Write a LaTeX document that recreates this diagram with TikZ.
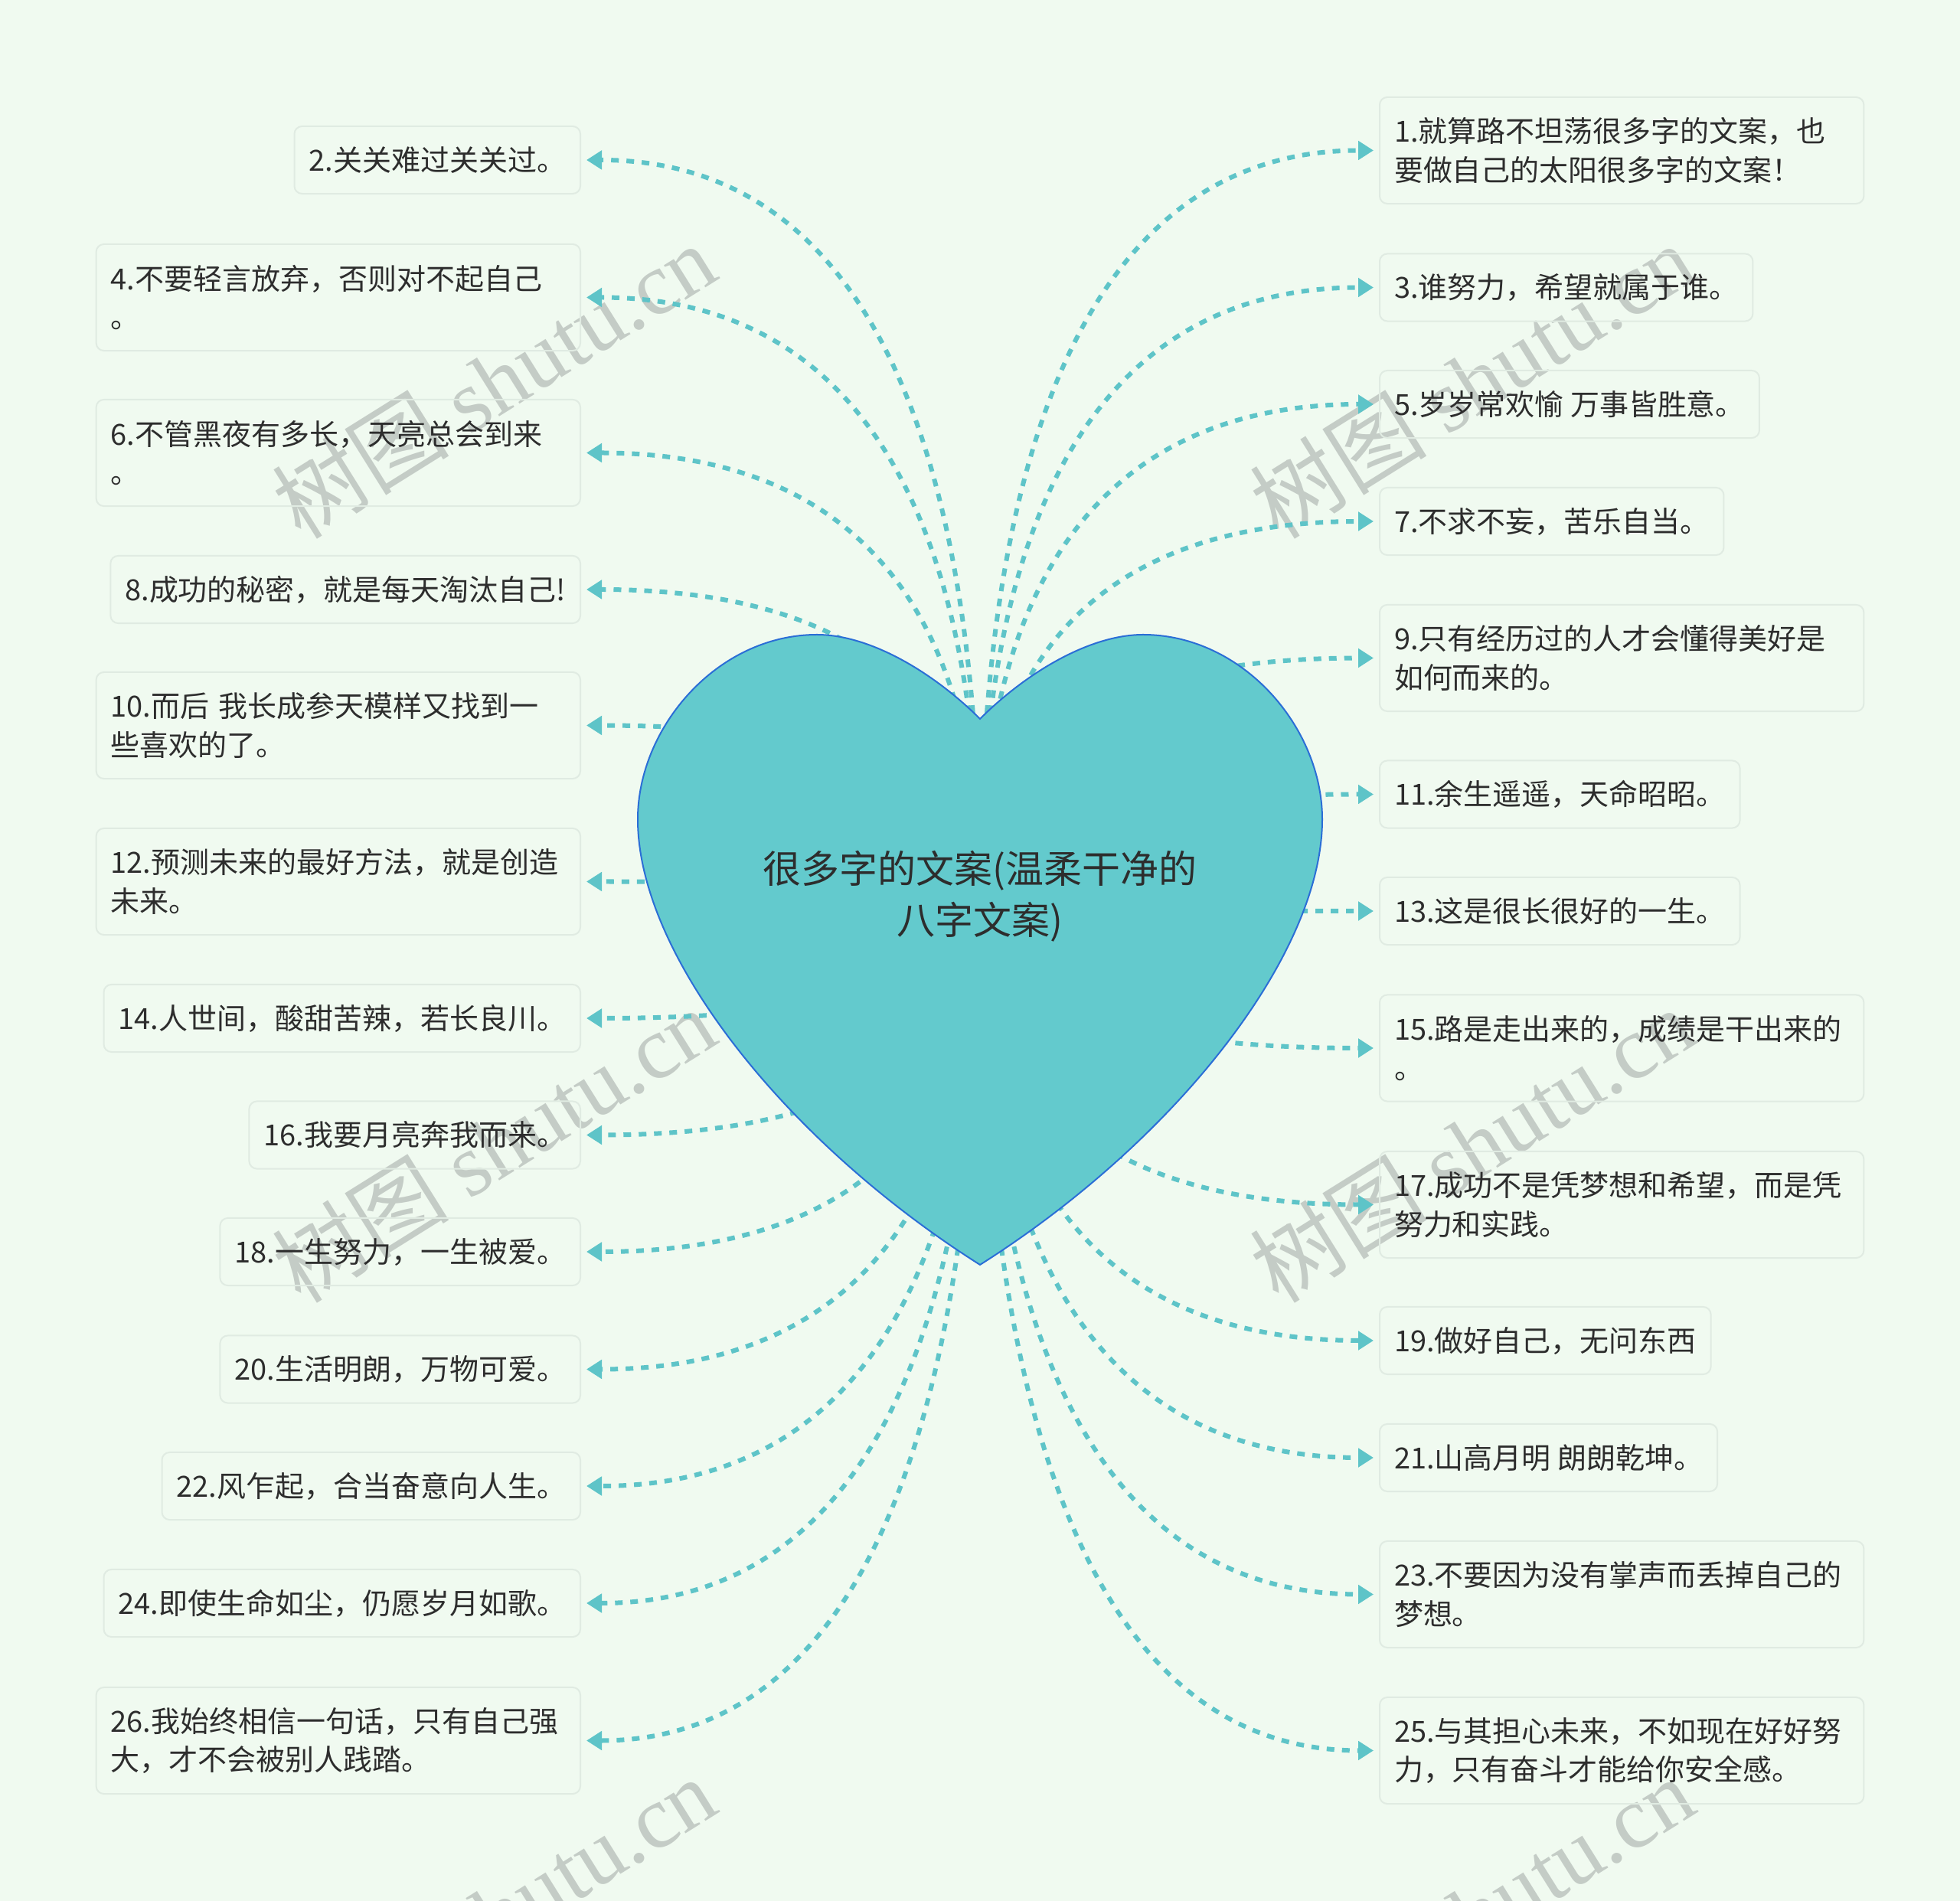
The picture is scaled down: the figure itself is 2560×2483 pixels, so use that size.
\documentclass[tikz,border=0pt]{standalone}
\usepackage{fontspec}
\setmainfont{Noto Sans CJK SC}
\newfontfamily\wmfont{Liberation Serif}
\usepackage{xcolor}
\usetikzlibrary{arrows.meta,calc}

\definecolor{bgmint}{RGB}{240,250,240}
\definecolor{boxline}{RGB}{224,235,226}
\definecolor{heartfill}{RGB}{99,202,205}
\definecolor{heartline}{RGB}{43,110,214}
\definecolor{linkcol}{RGB}{94,196,200}
\definecolor{txt}{RGB}{45,45,45}
\definecolor{wmgray}{RGB}{196,204,198}

\pgfdeclarelayer{background}
\pgfsetlayers{background,main}

\tikzset{
  leaf/.style={draw=boxline, line width=0.02cm, rounded corners=0.1cm,
    inner xsep=0.19cm, inner ysep=0.1cm, minimum height=0.88cm, text=txt,
    font=\fontsize{10.8}{14.4}\selectfont},
  leafw/.style={leaf, text width=5.94cm, align=left, minimum height=1.39cm},
  link/.style={linkcol, line width=0.06cm, dash pattern=on 0.1cm off 0.1cm,
    -{Triangle[length=0.2cm,width=0.24cm]}, shorten >=0.07cm},
  heart/.style={fill=heartfill, draw=heartline, line width=0.02cm},
  wmark/.style={wmgray, rotate=32, font=\fontsize{33}{33}\selectfont}
}

\begin{document}
\begin{tikzpicture}[x=0.01cm, y=-0.01cm]
  \useasboundingbox (0,0) rectangle (2560,2483);
  \clip (0,0) rectangle (2560,2483);
  \begin{pgfonlayer}{background}
    \fill[bgmint] (0,0) rectangle (2560,2483);
    % watermark
    \foreach \wy in {497,1495,2500} {
      \node[wmark] (wml\wy) at (645,\wy) {树图 {\wmfont shutu.cn}};
      \node[wmark] (wmr\wy) at (1922,\wy) {树图 {\wmfont shutu.cn}};
    }
  \end{pgfonlayer}

  % heart
  \draw[heart] (1280,939)
    .. controls (1220,879) and (1137,829) .. (1067,829)
    .. controls (937,829) and (833,950) .. (833,1070)
    .. controls (833,1250) and (1030,1494) .. (1280,1652)
    .. controls (1530,1494) and (1727,1250) .. (1727,1070)
    .. controls (1727,950) and (1623,829) .. (1493,829)
    .. controls (1423,829) and (1340,879) .. (1280,939) -- cycle;
  \node[text=txt, align=center, font=\fontsize{14.2}{19}\selectfont] (root) at (1280,1171)
    {很多字的文案(温柔干净的\\八字文案)};

  % left
  \node[leaf, anchor=east] (n2) at (759,209) {2.关关难过关关过。};
  \node[leafw, anchor=east] (n4) at (759,388.5) {4.不要轻言放弃，否则对不起自己\\。};
  \node[leafw, anchor=east] (n6) at (759,591.5) {6.不管黑夜有多长，天亮总会到来\\。};
  \node[leaf, anchor=east] (n8) at (759,770) {8.成功的秘密，就是每天淘汰自己!};
  \node[leafw, anchor=east] (n10) at (759,947.5) {10.而后 我长成参天模样又找到一\\些喜欢的了。};
  \node[leafw, anchor=east] (n12) at (759,1151.5) {12.预测未来的最好方法，就是创造\\未来。};
  \node[leaf, anchor=east] (n14) at (759,1330) {14.人世间，酸甜苦辣，若长良川。};
  \node[leaf, anchor=east] (n16) at (759,1482.5) {16.我要月亮奔我而来。};
  \node[leaf, anchor=east] (n18) at (759,1635) {18.一生努力，一生被爱。};
  \node[leaf, anchor=east] (n20) at (759,1788.5) {20.生活明朗，万物可爱。};
  \node[leaf, anchor=east] (n22) at (759,1941) {22.风乍起，合当奋意向人生。};
  \node[leaf, anchor=east] (n24) at (759,2094) {24.即使生命如尘，仍愿岁月如歌。};
  \node[leafw, anchor=east] (n26) at (759,2273.5) {26.我始终相信一句话，只有自己强\\大，才不会被别人践踏。};

  % right
  \node[leafw, anchor=west] (n1) at (1801,196.5) {1.就算路不坦荡很多字的文案，也\\要做自己的太阳很多字的文案！};
  \node[leaf, anchor=west] (n3) at (1801,375.5) {3.谁努力，希望就属于谁。};
  \node[leaf, anchor=west] (n5) at (1801,528) {5.岁岁常欢愉 万事皆胜意。};
  \node[leaf, anchor=west] (n7) at (1801,681) {7.不求不妄，苦乐自当。};
  \node[leafw, anchor=west] (n9) at (1801,859.5) {9.只有经历过的人才会懂得美好是\\如何而来的。};
  \node[leaf, anchor=west] (n11) at (1801,1037.5) {11.余生遥遥，天命昭昭。};
  \node[leaf, anchor=west] (n13) at (1801,1190) {13.这是很长很好的一生。};
  \node[leafw, anchor=west] (n15) at (1801,1369) {15.路是走出来的，成绩是干出来的\\。};
  \node[leafw, anchor=west] (n17) at (1801,1573.5) {17.成功不是凭梦想和希望，而是凭\\努力和实践。};
  \node[leaf, anchor=west] (n19) at (1801,1751) {19.做好自己，无问东西};
  \node[leaf, anchor=west] (n21) at (1801,1904) {21.山高月明 朗朗乾坤。};
  \node[leafw, anchor=west] (n23) at (1801,2082.5) {23.不要因为没有掌声而丢掉自己的\\梦想。};
  \node[leafw, anchor=west] (n25) at (1801,2286.5) {25.与其担心未来，不如现在好好努\\力，只有奋斗才能给你安全感。};

  \begin{pgfonlayer}{background}
    \foreach \n in {n2,n4,n6,n8,n10,n12,n14,n16,n18,n20,n22,n24,n26}
      \draw[link] (root.center) .. controls ($(root.center)!2/3!(root.center |- \n.east)$)
        and ($(\n.east)!2/3!(root.center |- \n.east)$) .. (\n.east);
    \foreach \n in {n1,n3,n5,n7,n9,n11,n13,n15,n17,n19,n21,n23,n25}
      \draw[link] (root.center) .. controls ($(root.center)!2/3!(root.center |- \n.west)$)
        and ($(\n.west)!2/3!(root.center |- \n.west)$) .. (\n.west);
  \end{pgfonlayer}
\end{tikzpicture}
\end{document}
